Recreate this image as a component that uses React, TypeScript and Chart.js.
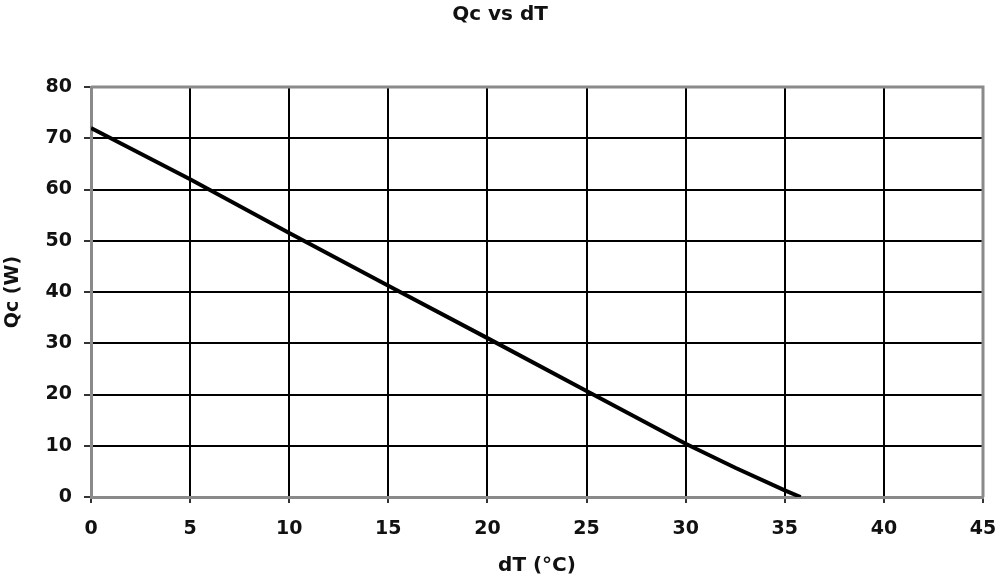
import { useEffect, useRef } from 'react';
import { Chart, registerables } from 'chart.js';

Chart.register(...registerables);

// dT (°C) vs Qc (W)
const dT = [0, 5, 10, 15, 20, 25, 30, 32.5, 35, 35.8];
const qc = [72, 62, 51.5, 41.2, 31, 20.7, 10.4, 5.7, 1.3, 0];

const FONT = '"DejaVu Sans", Verdana, sans-serif';

// grey frame round the plot area (top and right edges like the original)
const frame = {
    id: 'frame',
    beforeDatasetsDraw(chart: Chart) {
        const { ctx, chartArea } = chart;
        ctx.save();
        ctx.strokeStyle = '#8a8a8a';
        ctx.lineWidth = 3;
        ctx.beginPath();
        ctx.moveTo(chartArea.left, chartArea.top);
        ctx.lineTo(chartArea.right, chartArea.top);
        ctx.lineTo(chartArea.right, chartArea.bottom);
        ctx.stroke();
        ctx.restore();
    },
};

export default function App() {
    const chartRef = useRef<HTMLCanvasElement>(null);

    useEffect(() => {
        if (!chartRef.current) return;
        const points = dT.map((x, i) => ({ x, y: qc[i] }));

        const chart = new Chart(chartRef.current, {
            type: 'scatter',
            data: {
                datasets: [
                    {
                        label: 'Qc',
                        data: points,
                        showLine: true,
                        borderColor: '#000',
                        borderWidth: 4,
                        pointRadius: 0,
                        tension: 0,
                    },
                ],
            },
            options: {
                animation: false,
                responsive: true,
                maintainAspectRatio: false,
                layout: { padding: { left: 0, right: 0, top: 0, bottom: 0 } },
                plugins: {
                    legend: { display: false },
                    tooltip: { enabled: false },
                    title: {
                        display: true,
                        text: 'Qc vs dT',
                        color: '#111',
                        font: { family: FONT, size: 20, weight: 'bold' },
                        padding: { top: 3, bottom: 60 },
                    },
                },
                scales: {
                    x: {
                        type: 'linear',
                        min: 0,
                        max: 45,
                        afterFit: (s: any) => { s.height = 83; s.paddingRight = 17; },
                        ticks: {
                            stepSize: 5,
                            color: '#111',
                            padding: 15,
                            font: { family: FONT, size: 19, weight: 'bold' },
                        },
                        grid: { color: '#000', lineWidth: 2, tickColor: '#333', tickLength: 6 },
                        border: { color: '#8a8a8a', width: 3 },
                        title: {
                            display: true,
                            text: 'dT (°C)',
                            color: '#111',
                            font: { family: FONT, size: 20, weight: 'bold' },
                            padding: { top: 0, bottom: 2 },
                        },
                    },
                    y: {
                        min: 0,
                        max: 80,
                        afterFit: (s: any) => { s.width = 91; },
                        ticks: {
                            stepSize: 10,
                            color: '#111',
                            padding: 12,
                            font: { family: FONT, size: 19, weight: 'bold' },
                        },
                        grid: { color: '#000', lineWidth: 2, tickColor: '#333', tickLength: 7 },
                        border: { color: '#8a8a8a', width: 3 },
                        title: {
                            display: true,
                            text: 'Qc (W)',
                            color: '#111',
                            font: { family: FONT, size: 19, weight: 'bold' },
                            padding: { top: 2, bottom: 0 },
                        },
                    },
                },
            },
            plugins: [frame],
        });

        return () => chart.destroy();
    }, []);

    return (
        <div style={{ position: 'fixed', left: 0, top: 0, width: 1000, height: 580, background: '#fff' }}>
            <canvas ref={chartRef}></canvas>
        </div>
    );
}
